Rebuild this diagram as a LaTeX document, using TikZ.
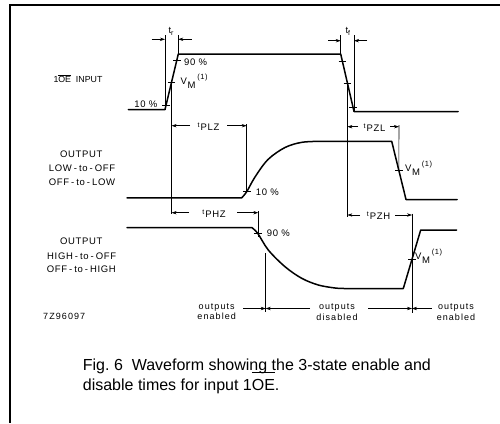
\documentclass[tikz,border=0pt]{standalone}
\usepackage{fontspec}
\setmainfont{Liberation Sans}
\newfontfamily\lblfont[LetterSpace=7]{Liberation Sans}
\newfontfamily\smfont[LetterSpace=12]{Liberation Sans}
\usetikzlibrary{arrows.meta}
\newcommand\hiol[2]{\leavevmode\setbox0\hbox{#2}\rlap{\rule[#1]{\wd0}{0.6pt}}\box0\relax}
\newcommand\tsub[1]{\raisebox{3pt}{\fontsize{7}{7}\selectfont t}\hspace{1pt}#1}
\newcommand\vmlab{V\hspace{0.5pt}\raisebox{-4pt}{M}\hspace{2pt}\raisebox{5pt}{\fontsize{7.5}{7.5}\selectfont (1)}}
\newcommand\dsp{\hspace{2pt}-\hspace{2pt}}
\begin{document}
\begin{tikzpicture}[x=1pt,y=-1pt,
  wave/.style={line width=1.5pt, line join=round, line cap=round},
  guide/.style={line width=0.55pt},
  dim/.style={line width=0.6pt, -{Stealth[length=5pt,width=3.4pt]}},
  tk/.style={line width=0.8pt},
  lab/.style={inner sep=0pt, font=\lblfont\fontsize{9.5}{10}\selectfont},
  small/.style={inner sep=0pt, font=\smfont\fontsize{9}{9}\selectfont}]
\useasboundingbox (0,0) rectangle (500,423);
% frame
\draw[line width=1.2pt] (500,5) -- (10,5) -- (10,423);

% ---------- input waveform
\coordinate (i0) at (128.3,109.5);
\coordinate (i1) at (165,109.5);
\coordinate (i2) at (178.3,54);
\coordinate (i3) at (340.7,54);
\coordinate (i4) at (354,111.5);
\coordinate (i5) at (458,111.5);
\draw[wave] (i0) -- (i1) -- (i2) -- (i3) -- (i4) -- (i5);
\coordinate (r90) at (176.9,60);
\coordinate (rvm) at (171.6,82);
\coordinate (r10) at (166,105);
\coordinate (f90) at (342.5,61.7);
\coordinate (fvm) at (347.4,83);
\coordinate (f10) at (353,107.3);
\foreach \p in {r90,rvm,r10,f90,fvm,f10}
  \draw[tk] ([xshift=-3.8pt]\p) -- ([xshift=3.8pt]\p);

% ---------- output 1 (LOW-to-OFF)
\coordinate (a10) at (246.7,191.7);
\coordinate (avm) at (398.9,170.5);
\draw[wave] (127,197.8) -- plot[smooth,tension=0.55] coordinates {(241.7,197.8) (a10) (255,177) (268,159.5) (285,147.5) (302,142.3) (322,141.3)} -- (391.7,141.3) -- (406,199.5) -- (457,199.5);
\foreach \p in {a10,avm}
  \draw[tk] ([xshift=-3.8pt]\p) -- ([xshift=3.8pt]\p);

% ---------- output 2 (HIGH-to-OFF)
\coordinate (b90) at (257.7,233.3);
\coordinate (bvm) at (412,259);
\draw[wave] (127,227.5) -- plot[smooth,tension=0.55] coordinates {(251.7,227.5) (b90) (268.3,250) (285,266.7) (301.7,278.3) (318.3,285) (335,288) (345,288.5)} -- (403.3,288.5) -- (420.7,230) -- (456.7,230);
\foreach \p in {b90,bvm}
  \draw[tk] ([xshift=-3.8pt]\p) -- ([xshift=3.8pt]\p);

% ---------- guide lines
\coordinate (gtr1) at (165,35);
\coordinate (gtr2) at (178.3,35);
\coordinate (gtf1) at (340.7,35);
\coordinate (gtf2) at (354,35);
\draw[guide] (gtr1) -- (i1);
\draw[guide] (gtr2) -- (i2);
\draw[guide] (gtf1) -- (i3);
\draw[guide] (gtf2) -- (i4);
\coordinate (vrb) at (171.6,214);
\coordinate (vfb) at (347.4,217);
\draw[guide] (rvm) -- (vrb);
\draw[guide] (fvm) -- (vfb);
\coordinate (plzt) at (246.7,124);
\draw[guide] (plzt) -- (a10);
\coordinate (phzt) at (258.3,211);
\coordinate (phzb) at (258.3,237);
\draw[guide] (phzt) -- (phzb);
\coordinate (pzlt) at (399,125);
\draw[guide] (pzlt) -- (avm);
\coordinate (pzht) at (412,213.5);
\coordinate (pzhb) at (412,313);
\draw[guide] (pzht) -- (pzhb);
\coordinate (ent) at (265.7,253);
\coordinate (enb) at (265.7,312);
\draw[guide] (ent) -- (enb);

% ---------- dimension arrows
\draw[dim] (151.7,39.3) -- (165,39.3);
\draw[dim] (191.7,39.3) -- (178.3,39.3);
\node[lab, anchor=base] (tr) at (171,33.3) {t\raisebox{-2pt}{\fontsize{7}{7}\selectfont r}};
\draw[dim] (328,40.7) -- (340.7,40.7);
\draw[dim] (367,40.7) -- (354,40.7);
\node[lab, anchor=base] (tf) at (347.8,33.3) {t\raisebox{-2pt}{\fontsize{7}{7}\selectfont f}};

\draw[dim] (190,125.7) -- (171.6,125.7);
\draw[dim] (227,125.7) -- (246.7,125.7);
\node[lab, anchor=base] (tplz) at (208.5,130.5) {\tsub{PLZ}};

\draw[dim] (189,212.7) -- (171.6,212.7);
\draw[dim] (237,212.7) -- (258.3,212.7);
\node[lab, anchor=base] (tphz) at (214,217) {\tsub{PHZ}};

\draw[dim] (358,126.7) -- (347.4,126.7);
\draw[dim] (390,126.7) -- (399,126.7);
\node[lab, anchor=base] (tpzl) at (374.5,131) {\tsub{PZL}};

\draw[dim] (360,215) -- (347.4,215);
\draw[dim] (395,215) -- (412,215);
\node[lab, anchor=base] (tpzh) at (378.5,219) {\tsub{PZH}};

\draw[dim] (243,308.5) -- (265.7,308.5);
\draw[dim] (310,308.5) -- (265.7,308.5);
\draw[dim] (368,308.5) -- (412,308.5);
\draw[dim] (431.7,308.5) -- (412,308.5);

% ---------- labels
\node[lab, anchor=base west] (l90a) at (184,65) {90 \%};
\node[lab, anchor=base west] (vma) at (180.5,84.5) {\vmlab};
\node[lab, anchor=base east] (l10a) at (157.5,107.3) {10 \%};
\node[inner sep=0pt, font=\fontsize{8.8}{10}\selectfont, anchor=base west] (inp) at (53.3,82.7) {1\hiol{7.6pt}{OE}\ \ INPUT};
\node[lab, anchor=base west] (l10b) at (255.7,195.7) {10 \%};
\node[lab, anchor=base west] (vmb) at (405,171.7) {\vmlab};
\node[lab, anchor=base west] (l90c) at (266.7,236.7) {90 \%};
\node[lab, anchor=base west] (vmc) at (415,259.3) {\vmlab};

\node[lab, anchor=base] (o1a) at (81.3,157.3) {OUTPUT};
\node[lab, anchor=base] (o1b) at (82,171.7) {LOW\dsp to\dsp OFF};
\node[lab, anchor=base] (o1c) at (82,185.7) {OFF\dsp to\dsp LOW};
\node[lab, anchor=base] (o2a) at (81.3,244) {OUTPUT};
\node[lab, anchor=base] (o2b) at (81.7,259) {HIGH\dsp to\dsp OFF};
\node[lab, anchor=base] (o2c) at (81.3,272.7) {OFF\dsp to\dsp HIGH};

\node[small, anchor=base west] (code) at (43,319.3) {7Z96097};

\node[small, anchor=base] (en1a) at (216.7,309) {outputs};
\node[small, anchor=base] (en1b) at (216.7,319.5) {enabled};
\node[small, anchor=base] (dis1) at (337,309) {outputs};
\node[small, anchor=base] (dis2) at (337,320) {disabled};
\node[small, anchor=base] (en2a) at (456,309) {outputs};
\node[small, anchor=base] (en2b) at (456,320) {enabled};

% ---------- caption
\node[anchor=base west, inner sep=0pt, font=\fontsize{16}{19}\selectfont] (cap1) at (82.7,370) {Fig.\ 6\ \ Waveform showing the 3-state enable and};
\node[anchor=base west, inner sep=0pt, font=\fontsize{16}{19}\selectfont] (cap2) at (82.7,390) {disable times for input 1\hiol{17.7pt}{OE}.};
\end{tikzpicture}
\end{document}
